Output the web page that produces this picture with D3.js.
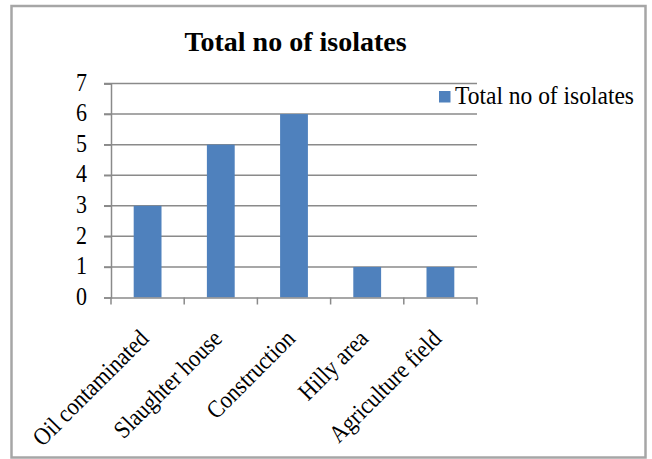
<!DOCTYPE html>
<html>
<head>
<meta charset="utf-8">
<script src="https://cdn.jsdelivr.net/npm/d3@7/dist/d3.min.js"></script>
<style>
  body { margin: 0; background: #fff; }
</style>
</head>
<body>
<div id="chart"></div>
<script>
var categories = ['Oil contaminated', 'Slaughter house', 'Construction', 'Hilly area', 'Agriculture field'];
var isolates = [3, 5, 6, 1, 1];
var yTicks = [0, 1, 2, 3, 4, 5, 6, 7];
var chartTitle = 'Total no of isolates';
var seriesName = 'Total no of isolates';

var width = 652, height = 459;
var plot = { left: 111, right: 477, top: 83.5, bottom: 297.5 };
var barColor = '#4f81bd';
var lineColor = '#8a8a8a';
var fontName = '"Liberation Serif"';
var stretch = 1.12; // source text is a bit taller than it is wide

var svg = d3.select('#chart').append('svg')
  .attr('width', width)
  .attr('height', height)
  .style('font-family', fontName);

//outer frame
svg.append('rect')
  .attr('x', 11.5)
  .attr('y', 6)
  .attr('width', 634)
  .attr('height', 451.5)
  .attr('fill', '#fff')
  .attr('stroke', '#a6a6a6')
  .attr('stroke-width', 2.5);

var x = d3.scaleBand()
  .domain(categories)
  .range([plot.left, plot.right])
  .paddingInner(0.62)
  .paddingOuter(0.31);

var y = d3.scaleLinear()
  .domain([0, 7])
  .range([plot.bottom, plot.top]);

//gridlines
svg.append('g')
  .selectAll('line')
  .data(yTicks.filter(function(d) { return d > 0; }))
  .enter().append('line')
    .attr('x1', plot.left - 7)
    .attr('x2', plot.right)
    .attr('y1', function(d) { return y(d); })
    .attr('y2', function(d) { return y(d); })
    .attr('stroke', lineColor)
    .attr('stroke-width', 1.5);

//bars
svg.append('g')
  .selectAll('rect')
  .data(isolates)
  .enter().append('rect')
    .attr('x', function(d, i) { return x(categories[i]); })
    .attr('y', function(d) { return y(d); })
    .attr('width', x.bandwidth())
    .attr('height', function(d) { return y(0) - y(d); })
    .attr('fill', barColor);

//y axis
var yAxis = svg.append('g')
  .attr('transform', 'translate(' + plot.left + ',0)')
  .call(d3.axisLeft(y).tickValues(yTicks).tickFormat(d3.format('d')).tickSize(7).tickPadding(17));
yAxis.attr('font-family', null).attr('font-size', null);
yAxis.select('.domain').attr('stroke', lineColor).attr('stroke-width', 1.5);
yAxis.selectAll('.tick line').attr('stroke', lineColor).attr('stroke-width', 1.5);
yAxis.selectAll('.tick text')
  .attr('dy', '0.27em')
  .attr('transform', 'scale(1,' + stretch + ')')
  .style('font-family', fontName)
  .style('font-size', '22px')
  .style('fill', '#000');

//x axis
var xAxis = svg.append('g')
  .attr('transform', 'translate(0,' + plot.bottom + ')')
  .call(d3.axisBottom(x).tickSize(0).tickFormat(''));
xAxis.select('.domain').attr('stroke', lineColor).attr('stroke-width', 1.5);

var step = x.step();
svg.append('g')
  .selectAll('line')
  .data(d3.range(categories.length + 1))
  .enter().append('line')
    .attr('x1', function(i) { return plot.left + i * step; })
    .attr('x2', function(i) { return plot.left + i * step; })
    .attr('y1', plot.bottom)
    .attr('y2', plot.bottom + 7)
    .attr('stroke', lineColor)
    .attr('stroke-width', 1.5);

//rotated category labels
svg.append('g')
  .selectAll('text')
  .data(categories)
  .enter().append('text')
    .attr('text-anchor', 'end')
    .attr('transform', function(d) {
      return 'translate(' + (x(d) + x.bandwidth() / 2 + 2.5) + ',340) rotate(-45) scale(1,' + stretch + ')';
    })
    .style('font-family', fontName)
    .style('font-size', '22px')
    .style('fill', '#000')
    .text(function(d) { return d; });

//title
svg.append('text')
  .attr('x', 295.5)
  .attr('y', 51)
  .attr('text-anchor', 'middle')
  .style('font-family', fontName)
  .style('font-size', '28px')
  .style('font-weight', 'bold')
  .style('fill', '#000')
  .text(chartTitle);

//legend
var legend = svg.append('g').attr('transform', 'translate(439,91)');
legend.append('rect')
  .attr('width', 11.5)
  .attr('height', 11.5)
  .attr('fill', barColor);
legend.append('text')
  .attr('transform', 'translate(16,12.5) scale(1,1.08)')
  .style('font-family', fontName)
  .style('font-size', '23.5px')
  .style('fill', '#000')
  .text(seriesName);
</script>
</body>
</html>
